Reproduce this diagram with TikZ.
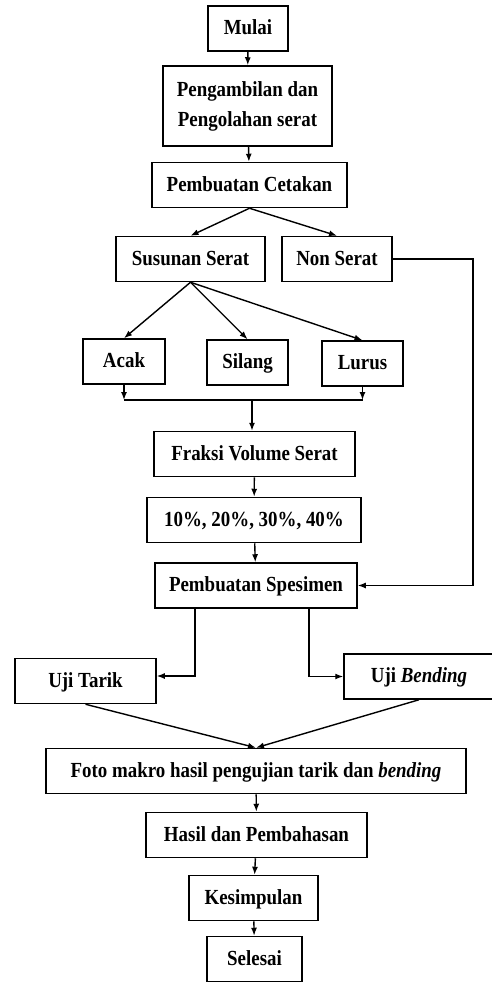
\documentclass[tikz,border=0pt]{standalone}
\usepackage{fontspec}
\setmainfont{Liberation Serif}
\newfontfamily\kotakfont[FakeStretch=0.88]{Liberation Serif}
\usetikzlibrary{arrows.meta,positioning}

\begin{document}
\begin{tikzpicture}[x=1pt,y=-1pt,>={Latex[length=8pt,width=6pt]},line width=1.4pt,box/.style={draw,line width=1.5pt,inner sep=0pt,align=center,minimum height=45pt,text height=15pt,text depth=3pt,font=\kotakfont\fontsize{21.5}{30}\selectfont\bfseries}]
\useasboundingbox (0,0) rectangle (491,983);
\node[box,minimum width=80pt] (mulai) at (248,28.5) {Mulai};
\node[box,minimum width=169pt,minimum height=80pt,text height=,text depth=] (ambil) at (247.5,106) {Pengambilan dan\\Pengolahan serat};
\node[box,minimum width=195pt] (cetak) at (249.5,185) {Pembuatan Cetakan};
\node[box,minimum width=149pt] (susun) at (190.5,259) {Susunan Serat};
\node[box,minimum width=110pt] (non) at (337,259) {Non Serat};
\node[box,minimum width=82pt] (acak) at (124,361.5) {Acak};
\node[box,minimum width=81pt] (silang) at (247.5,362.5) {Silang};
\node[box,minimum width=81pt] (lurus) at (362.5,363.5) {Lurus};
\node[box,minimum width=201pt] (fraksi) at (254.5,454) {Fraksi Volume Serat};
\node[box,minimum width=214pt] (persen) at (254,520) {10\%, 20\%, 30\%, 40\%};
\node[box,minimum width=202pt] (spesimen) at (256,585.5) {Pembuatan Spesimen};
\node[box,minimum width=141pt] (tarik) at (85.5,681) {Uji Tarik};
\node[box,minimum width=150pt] (bending) at (419,676.5) {Uji \textit{Bending}};
\node[box,minimum width=420pt] (foto) at (256,771) {Foto makro hasil pengujian tarik dan \textit{bending}};
\node[box,minimum width=221pt] (hasil) at (256.5,835) {Hasil dan Pembahasan};
\node[box,minimum width=129pt] (simpul) at (253.5,898) {Kesimpulan};
\node[box,minimum width=95pt] (selesai) at (254.5,959) {Selesai};
\coordinate (gabung) at (252,400);
\coordinate (balik) at (473,259);
\foreach \a/\b in {mulai/ambil,ambil/cetak,fraksi/persen,persen/spesimen,foto/hasil,hasil/simpul,simpul/selesai}{\draw[->] (\a)--(\b);}
\foreach \b in {susun,non}{\draw[->] (cetak.south)--(\b.north);}
\foreach \b in {acak,silang,lurus}{\draw[->] (susun.south)--(\b.north);}
\foreach \a in {tarik,bending}{\draw[->] (\a.south)--(foto.north);}
\draw (acak |- gabung)--(lurus |- gabung);
\draw[->] (acak)--(acak |- gabung);
\draw[->] (lurus)--(lurus |- gabung);
\draw[->] (gabung)--(gabung |- fraksi.north);
\draw[->] (non.east)--(balik) |- (spesimen.east);
\draw[->] ([xshift=-61pt]spesimen.south) |- ([yshift=5pt]tarik.east);
\draw[->] ([xshift=53pt]spesimen.south) |- (bending.west);
\end{tikzpicture}
\end{document}
